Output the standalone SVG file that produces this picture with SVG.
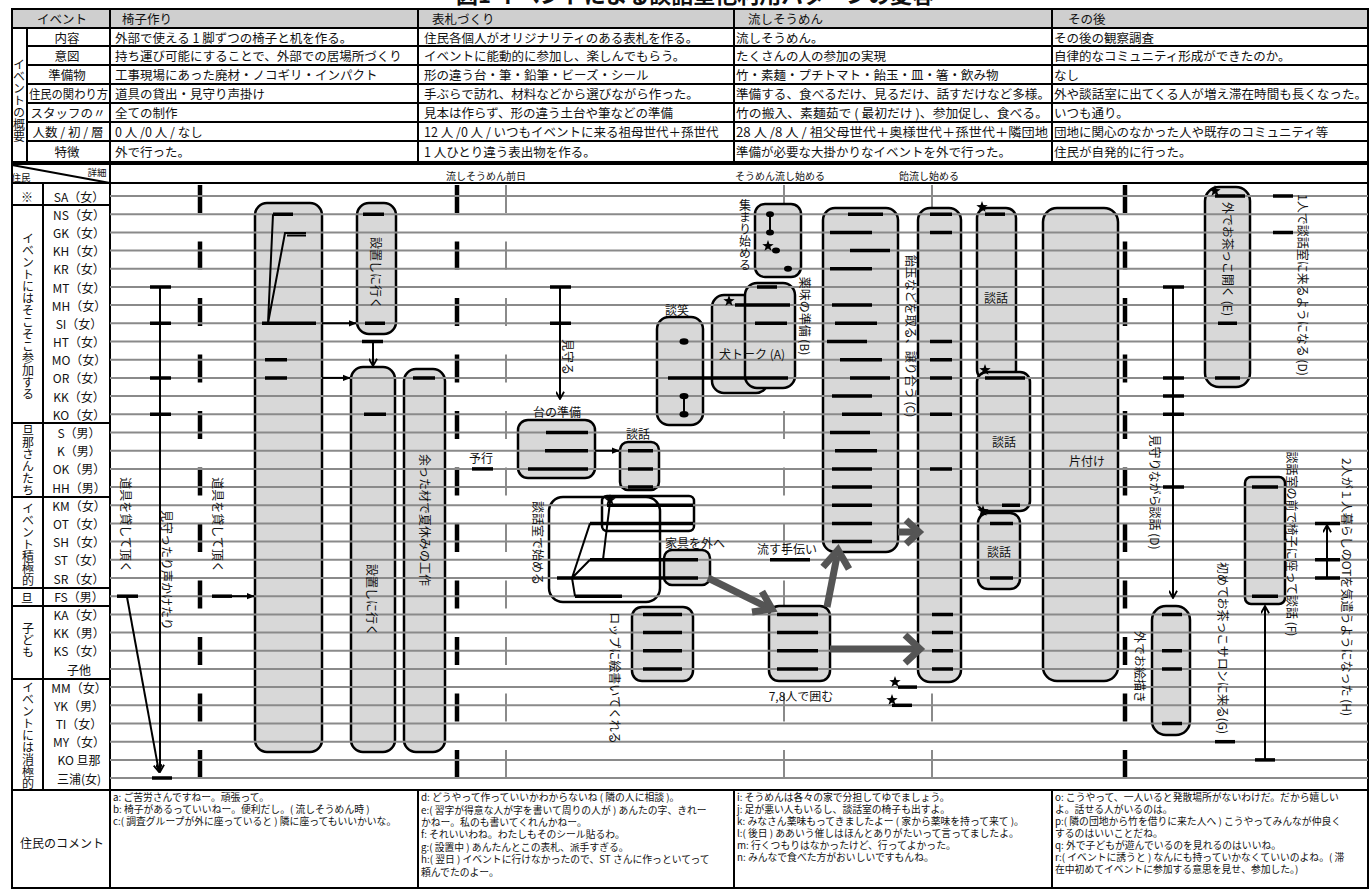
<svg xmlns="http://www.w3.org/2000/svg" xmlns:xlink="http://www.w3.org/1999/xlink" width="1371" height="891" viewBox="0 0 1371 891">
<style>
text{font-family:"Noto Sans CJK JP","Noto Sans CJK SC",sans-serif;fill:#111}
.tb{font-size:12.5px;dominant-baseline:central}
.hd{font-size:12.5px;dominant-baseline:central}
.lab{font-size:12px;text-anchor:middle;dominant-baseline:central}
.rot{font-size:12px;text-anchor:middle;dominant-baseline:central}
.vt{writing-mode:vertical-rl;font-size:12px;text-anchor:middle}
.sm{font-size:10px;text-anchor:middle;dominant-baseline:central}
.cm{font-size:9.8px}
.row{stroke:#8a8a8a;stroke-width:2;fill:none}
.box{fill:#d8d8d8;stroke:#000;stroke-width:2.5}
.wbox{fill:none;stroke:#000;stroke-width:2.5}
.bar{stroke:#000;stroke-width:3.5;fill:none}
.ln{stroke:#000;stroke-width:2;fill:none}
.grid{stroke:#000;stroke-width:2;fill:none}
.bd{stroke:#000;stroke-width:4.5;fill:none;stroke-dasharray:28 28.5}
.gd{stroke:#8a8a8a;stroke-width:2;fill:none;stroke-dasharray:28 28.5}
.big{stroke:#555;stroke-width:7;fill:none}
.dot{fill:#000}
</style>
<defs>
<marker id="ah" viewBox="0 0 10 10" refX="9" refY="5" markerWidth="8" markerHeight="8" markerUnits="userSpaceOnUse" orient="auto"><path d="M0,1 L10,5 L0,9 z" fill="#000"/></marker>
<marker id="oh" viewBox="0 0 10 10" refX="9" refY="5" markerWidth="9" markerHeight="9" markerUnits="userSpaceOnUse" orient="auto"><path d="M1,0.5 L9,5 L1,9.5" fill="none" stroke="#000" stroke-width="2"/></marker>
<path id="star" d="M0,-6 L1.41,-1.94 L5.71,-1.85 L2.28,0.74 L3.53,4.85 L0,2.4 L-3.53,4.85 L-2.28,0.74 L-5.71,-1.85 L-1.41,-1.94 Z" fill="#000"/>
</defs>
<rect width="1371" height="891" fill="#fff"/>

<text x="695" y="3" font-size="22" font-weight="bold" text-anchor="middle">図1 イベントによる談話室他利用パターンの変容</text>

<!-- summary table -->
<g id="table">
<rect x="12" y="9" width="1356" height="19" fill="#cfcfcf"/>
<rect x="12" y="9" width="1356" height="153" class="grid"/>
<path class="grid" d="M12,28 H1368 M27,46 H1368 M27,65 H1368 M27,84 H1368 M27,103 H1368 M27,122 H1368 M27,141 H1368 M27,28 V162 M110,9 V162 M418,9 V162 M734,9 V162 M1052,9 V162"/>
<text class="hd" x="62" y="18.5" text-anchor="middle">イベント</text>
<text class="hd" x="122" y="18.5">椅子作り</text>
<text class="hd" x="432" y="18.5">表札づくり</text>
<text class="hd" x="748" y="18.5">流しそうめん</text>
<text class="hd" x="1068" y="18.5">その後</text>
<text class="vt" x="19" y="100">イベントの概要</text>
<text class="tb" x="67" y="37" text-anchor="middle">内容</text>
<text class="tb" x="67" y="55.5" text-anchor="middle">意図</text>
<text class="tb" x="67" y="74.5" text-anchor="middle">準備物</text>
<text class="tb" x="29" y="93.5" textLength="79" lengthAdjust="spacingAndGlyphs">住民の関わり方</text>
<text class="tb" x="68" y="112.5" text-anchor="middle">スタッフの〃</text>
<text class="tb" x="68" y="131.5" text-anchor="middle">人数 / 初 / 層</text>
<text class="tb" x="67" y="151.5" text-anchor="middle">特徴</text>
<text class="tb" x="115" y="37">外部で使える 1 脚ずつの椅子と机を作る。</text>
<text class="tb" x="115" y="55.5">持ち運び可能にすることで、外部での居場所づくり</text>
<text class="tb" x="115" y="74.5">工事現場にあった廃材・ノコギリ・インパクト</text>
<text class="tb" x="115" y="93.5">道具の貸出・見守り声掛け</text>
<text class="tb" x="115" y="112.5">全ての制作</text>
<text class="tb" x="115" y="131.5">0 人 /0 人 / なし</text>
<text class="tb" x="115" y="151.5">外で行った。</text>
<text class="tb" x="424" y="37">住民各個人がオリジナリティのある表札を作る。</text>
<text class="tb" x="424" y="55.5">イベントに能動的に参加し、楽しんでもらう。</text>
<text class="tb" x="424" y="74.5">形の違う台・筆・鉛筆・ビーズ・シール</text>
<text class="tb" x="424" y="93.5">手ぶらで訪れ、材料などから選びながら作った。</text>
<text class="tb" x="424" y="112.5">見本は作らず、形の違う土台や筆などの準備</text>
<text class="tb" x="424" y="131.5">12 人 /0 人 / いつもイベントに来る祖母世代＋孫世代</text>
<text class="tb" x="424" y="151.5">1 人ひとり違う表出物を作る。</text>
<text class="tb" x="736" y="37">流しそうめん。</text>
<text class="tb" x="736" y="55.5">たくさんの人の参加の実現</text>
<text class="tb" x="736" y="74.5">竹・素麺・プチトマト・飴玉・皿・箸・飲み物</text>
<text class="tb" x="736" y="93.5" textLength="314" lengthAdjust="spacingAndGlyphs">準備する、食べるだけ、見るだけ、話すだけなど多様。</text>
<text class="tb" x="736" y="112.5" textLength="312" lengthAdjust="spacingAndGlyphs">竹の搬入、素麺茹で ( 最初だけ )、参加促し、食べる。</text>
<text class="tb" x="736" y="131.5" textLength="312" lengthAdjust="spacingAndGlyphs">28 人 /8 人 / 祖父母世代＋奥様世代＋孫世代＋隣団地</text>
<text class="tb" x="736" y="151.5">準備が必要な大掛かりなイベントを外で行った。</text>
<text class="tb" x="1054" y="37">その後の観察調査</text>
<text class="tb" x="1054" y="55.5">自律的なコミュニティ形成ができたのか。</text>
<text class="tb" x="1054" y="74.5">なし</text>
<text class="tb" x="1054" y="93.5" textLength="313" lengthAdjust="spacingAndGlyphs">外や談話室に出てくる人が増え滞在時間も長くなった。</text>
<text class="tb" x="1054" y="112.5">いつも通り。</text>
<text class="tb" x="1054" y="131.5">団地に関心のなかった人や既存のコミュニティ等</text>
<text class="tb" x="1054" y="151.5">住民が自発的に行った。</text>
</g>

<!-- chart frame -->
<g id="frame">
<path class="grid" d="M12,164 H1368 V888 H12 Z M12,183 H1368 M110,164 V888 M43,183 V790 M12,205 H110 M12,423 H110 M12,497 H110 M12,588 H110 M12,606 H110 M12,679 H110 M12,790 H1368 M418,790 V888 M734,790 V888 M1052,790 V888"/>
<line x1="12" y1="165" x2="110" y2="183" class="ln" stroke-width="1.5"/>
<text x="97" y="172" font-size="9.5" text-anchor="middle" dominant-baseline="central">詳細</text>
<text x="21" y="177" font-size="9.5" text-anchor="middle" dominant-baseline="central">住民</text>
<text class="sm" x="486" y="175">流しそうめん前日</text>
<text class="sm" x="780" y="175">そうめん流し始める</text>
<text class="sm" x="929" y="175">飴流し始める</text>
</g>

<!-- group labels -->
<g id="groups">
<text class="lab" x="27" y="196">※</text>
<text class="vt" x="28" y="316">イベントにはそこそこ参加する</text>
<text class="vt" x="28" y="460">旦那さんたち</text>
<text class="vt" x="28" y="544">イベント積極的</text>
<text class="lab" x="27" y="597">旦</text>
<text class="vt" x="28" y="640">子ども</text>
<text class="vt" x="28" y="735">イベントには消極的</text>
</g>

<!-- resident labels -->
<g id="residents">
<text class="lab" x="79" y="196">SA（女）</text>
<text class="lab" x="79" y="214.2">NS（女）</text>
<text class="lab" x="79" y="232.4">GK（女）</text>
<text class="lab" x="79" y="250.6">KH（女）</text>
<text class="lab" x="79" y="268.8">KR（女）</text>
<text class="lab" x="79" y="287">MT（女）</text>
<text class="lab" x="79" y="305.1">MH（女）</text>
<text class="lab" x="79" y="323.3">SI（女）</text>
<text class="lab" x="79" y="341.5">HT（女）</text>
<text class="lab" x="79" y="359.7">MO（女）</text>
<text class="lab" x="79" y="377.9">OR（女）</text>
<text class="lab" x="79" y="396.1">KK（女）</text>
<text class="lab" x="79" y="414.3">KO（女）</text>
<text class="lab" x="79" y="432.5">S（男）</text>
<text class="lab" x="79" y="450.7">K（男）</text>
<text class="lab" x="79" y="468.9">OK（男）</text>
<text class="lab" x="79" y="487">HH（男）</text>
<text class="lab" x="79" y="505.2">KM（女）</text>
<text class="lab" x="79" y="523.4">OT（女）</text>
<text class="lab" x="79" y="541.6">SH（女）</text>
<text class="lab" x="79" y="559.8">ST（女）</text>
<text class="lab" x="79" y="578">SR（女）</text>
<text class="lab" x="79" y="596.2">FS（男）</text>
<text class="lab" x="79" y="614.4">KA（女）</text>
<text class="lab" x="79" y="632.6">KK（男）</text>
<text class="lab" x="79" y="650.8">KS（女）</text>
<text class="lab" x="79" y="669">子他</text>
<text class="lab" x="79" y="687.1">MM（女）</text>
<text class="lab" x="79" y="705.3">YK（男）</text>
<text class="lab" x="79" y="723.5">TI（女）</text>
<text class="lab" x="79" y="741.7">MY（女）</text>
<text class="lab" x="79" y="759.9">KO 旦那</text>
<text class="lab" x="79" y="778.1">三浦(女)</text>
</g>

<!-- time dashes -->
<g id="timelines">
<path class="bd" d="M200,185 V778 M457,185 V778 M1125,185 V778"/>
<path class="gd" d="M506,185 V778 M784,185 V778 M932,185 V778"/>
</g>

<!-- activity boxes -->
<g id="boxes">
<rect id="n-chair" class="box" x="255" y="203" width="67" height="549" rx="12"/>
<rect id="n-set1" class="box" x="357" y="203" width="39" height="131" rx="12"/>
<rect id="n-set2" class="box" x="351" y="367" width="44" height="385" rx="12"/>
<rect id="n-craft" class="box" x="404" y="369" width="41" height="383" rx="12"/>
<rect id="n-dai" class="box" x="518" y="420" width="77" height="58" rx="10"/>
<rect id="n-danwa0" class="box" x="620" y="442" width="39" height="48" rx="8"/>
<rect id="n-dansho" class="box" x="657" y="317" width="46" height="108" rx="12"/>
<rect id="n-inu" class="box" x="712" y="295" width="56" height="98" rx="12"/>
<rect id="n-yakumi" class="box" x="745" y="283" width="50" height="105" rx="12"/>
<rect id="n-atsumari" class="box" x="755" y="204" width="46" height="73" rx="10"/>
<rect id="n-ame" class="box" x="823" y="208" width="75" height="344" rx="12"/>
<rect id="n-tall" class="box" x="918" y="208" width="43" height="474" rx="12"/>
<rect id="n-danwa1" class="box" x="977" y="208" width="39" height="172" rx="10"/>
<rect id="n-danwa2" class="box" x="977" y="372" width="53" height="139" rx="10"/>
<rect id="n-danwa3" class="box" x="978" y="513" width="42" height="76" rx="10"/>
<rect id="n-katazuke" class="box" x="1043" y="208" width="75" height="473" rx="14"/>
<rect id="n-ocha" class="box" x="1205" y="187" width="45" height="200" rx="14"/>
<rect id="n-oekaki" class="box" x="1152" y="606" width="38" height="129" rx="14"/>
<rect id="n-mae" class="box" x="1245" y="477" width="40" height="127" rx="6"/>
<rect id="n-kagu" class="box" x="664" y="550" width="46" height="35" rx="8"/>
<rect id="n-cup" class="box" x="632" y="607" width="61" height="74" rx="10"/>
<rect id="n-kakomu" class="box" x="769" y="606" width="61" height="75" rx="10"/>
<rect id="n-danwashitsu" class="wbox" x="549" y="497" width="111" height="105" rx="14"/>
<rect class="wbox" x="602" y="496" width="92" height="35" rx="5"/>
</g>

<!-- resident rows -->
<g id="rows">
<path class="row" d="M110,196H1368M110,214.2H1368M110,232.4H1368M110,250.6H1368M110,268.8H1368M110,287H1368M110,305.1H1368M110,323.3H1368M110,341.5H1368M110,359.7H1368M110,377.9H1368M110,396.1H1368M110,414.3H1368M110,432.5H1368M110,450.7H1368M110,468.9H1368M110,487H1368M110,505.2H1368M110,523.4H1368M110,541.6H1368M110,559.8H1368M110,578H1368M110,596.2H1368M110,614.4H1368M110,632.6H1368M110,650.8H1368M110,669H1368M110,687.1H1368M110,705.3H1368M110,723.5H1368M110,741.7H1368M110,759.9H1368M110,778.1H1368"/>
</g>

<!-- connectors, bars and marks -->
<g id="connectors">
<path class="ln" d="M160,287 V772" marker-end="url(#oh)"/>
<path class="bar" d="M150,287H171M150,323.3H171M150,377.9H171M150,414.3H171M152,778.1H172"/>
<path class="bar" d="M117,596.2H138"/>
<path class="ln" d="M127,597 L159,772" marker-end="url(#oh)"/>
<path class="bar" d="M212,596.2H232"/>
<path class="ln" d="M232,596.2 H254" marker-end="url(#ah)"/>
<path class="bar" d="M273,214.2H293M262,323.3H316M265,359.7H287M265,377.9H287"/>
<path class="ln" d="M273,214.2 L268,323.3 L285,233 H306" stroke-width="2.5"/>
<path class="ln" d="M287,235.5 H306" stroke-width="1.5"/>
<path class="ln" d="M322,323.3 H356" marker-end="url(#ah)"/>
<path class="ln" d="M322,377.9 H350" marker-end="url(#ah)"/>
<path class="bar" d="M363,214.2H384M365,323.3H385M362,341.5H383M364,414.3H386M413,377.9H435"/>
<path class="ln" d="M373,341.5 V366" marker-end="url(#oh)"/>
<path class="bar" d="M472,468.9H493"/>
<path class="ln" d="M560,287 V399" marker-end="url(#oh)"/>
<path class="bar" d="M550,287H571M550,323.3H571"/>
<path class="bar" d="M546,432.5H588M545,450.7H588M528,468.9H588"/>
<path class="ln" d="M595,450.7 H619" marker-end="url(#ah)"/>
<path class="bar" d="M628,450.7H653M628,468.9H653M628,487H653"/>
<ellipse class="dot" cx="684" cy="341.5" rx="4.5" ry="3.2"/>
<path class="bar" d="M668,377.9H788"/>
<path class="ln" d="M684,396.1V414.3" stroke-width="2.5"/>
<ellipse class="dot" cx="684" cy="396.1" rx="4.5" ry="3.2"/>
<ellipse class="dot" cx="684" cy="414.3" rx="4.5" ry="3.2"/>
<use href="#star" x="729" y="301"/>
<path class="bar" d="M735,305.1H790M757,287H777M755,323.3H787"/>
<path class="ln" d="M770,214.2V232.4" stroke-width="2.5"/>
<ellipse class="dot" cx="770" cy="214.2" rx="4" ry="3"/>
<ellipse class="dot" cx="770" cy="232.4" rx="4" ry="3"/>
<use href="#star" x="768" y="246"/>
<ellipse class="dot" cx="776" cy="250.6" rx="4" ry="3"/>
<ellipse class="dot" cx="788" cy="268.8" rx="4" ry="3"/>
<path class="bar" d="M848,214.2H883M830,232.4H872M850,250.6H890M830,268.8H872M832,305.1H872M835,323.3H877M827,341.5H867M840,359.7H882M850,377.9H890M832,396.1H872M842,414.3H882M830,432.5H870M835,450.7H877M832,468.9H872M832,487H872M832,505.2H872M832,523.4H872M832,541.6H872"/>
<path class="bar" d="M930,214.2H952M930,232.4H952M930,341.5H952M930,359.7H952M930,377.9H952M930,414.3H952M930,468.9H952M932,614.4H953M932,632.6H953M932,650.8H953M932,669H953"/>
<use href="#star" x="610" y="500"/>
<path class="ln" d="M610,502 L603,559.8" stroke-width="2.5"/>
<path class="ln" d="M590,523.4 L572,578 M590,559.8 L572,578 M572,578 L575,596.2" stroke-width="2.5"/>
<path class="bar" d="M607,505.2H693M590,523.4H693M590,559.8H698M557,578H698M575,596.2H622"/>
<path class="bar" d="M770,559.8H810"/>
<path class="bar" d="M643,614.4H682M643,632.6H682M643,650.8H682M643,669H682"/>
<path class="bar" d="M777,614.4H818M777,632.6H818M777,650.8H818M777,669H818"/>
<path class="big" d="M708,578 L767,607"/>
<path class="big" d="M762,591.5 L772,609 L752,612" stroke-width="6"/>
<path class="big" d="M827,607 L837,556"/>
<path class="big" d="M823,567 L838,550 L849,569" stroke-width="6"/>
<path class="big" d="M898,532 H916"/>
<path class="big" d="M906,520 L919,532 L906,544" stroke-width="6"/>
<path class="big" d="M830,649 H917"/>
<path class="big" d="M905,635 L920,649 L905,663" stroke-width="6"/>
<use href="#star" x="895" y="682"/>
<path class="bar" d="M898,687.1H917"/>
<use href="#star" x="892" y="700"/>
<path class="bar" d="M892,705.3H912"/>
<use href="#star" x="982" y="207"/>
<path class="bar" d="M985,214.2H1005"/>
<use href="#star" x="985" y="370"/>
<path class="bar" d="M985,377.9H1025M1002,505.2H1020"/>
<use href="#star" x="983" y="511"/>
<path class="bar" d="M990,523.4H1013M990,578H1013"/>
<use href="#star" x="1215" y="191"/>
<path class="bar" d="M1215,196H1245M1218,323.3H1237M1215,377.9H1240"/>
<path class="bar" d="M1273,196H1293M1273,232.4H1293"/>
<path class="ln" d="M1173,287 V598" marker-end="url(#oh)"/>
<path class="bar" d="M1163,287H1184M1163,377.9H1184M1163,396.1H1184M1163,414.3H1184M1163,487H1184"/>
<path class="bar" d="M1162,614.4H1182M1162,650.8H1182M1162,669H1182M1162,723.5H1182"/>
<path class="bar" d="M1215,741.7H1235"/>
<path class="bar" d="M1252,487H1278M1252,596.2H1278"/>
<path class="ln" d="M1265,759.9 V606" marker-end="url(#oh)"/>
<path class="bar" d="M1255,759.9H1275"/>
<path class="ln" d="M1327,578 V525" marker-end="url(#oh)"/>
<path class="bar" d="M1315,523.4H1340M1315,559.8H1340M1315,578H1340"/>
</g>

<!-- chart labels -->
<g id="labels">
<text class="rot" transform="translate(126,525) rotate(90)">道具を貸して頂く</text>
<text class="rot" transform="translate(167,570) rotate(90)">見守ったり声かけたり</text>
<text class="rot" transform="translate(218,525) rotate(90)">道具を貸して頂く</text>
<text class="rot" transform="translate(376,273) rotate(90)">設置しに行く</text>
<text class="rot" transform="translate(372,600) rotate(90)">設置しに行く</text>
<text class="rot" transform="translate(425,520) rotate(90)">余った材で夏休みの工作</text>
<text class="lab" x="481" y="457">予行</text>
<text class="rot" transform="translate(568,357) rotate(90)">見守る</text>
<text class="lab" x="557" y="411">台の準備</text>
<text class="lab" x="638" y="433">談話</text>
<text class="lab" x="677" y="309">談笑</text>
<text class="lab" x="752" y="353">犬トーク (A)</text>
<text class="rot" transform="translate(805,316) rotate(90)">薬味の準備 (B)</text>
<text class="vt" x="745" y="235">集まり始める</text>
<text class="rot" transform="translate(911,336) rotate(90)">飴玉などを取る、譲り合う (C)</text>
<text class="rot" transform="translate(538,543) rotate(90)">談話室で始める</text>
<text class="lab" x="695" y="542">家具を外へ</text>
<text class="lab" x="787" y="548">流す手伝い</text>
<text class="rot" transform="translate(615,678) rotate(90)">ロップに絵書いてくれる</text>
<text class="lab" x="801" y="695">7,8人で囲む</text>
<text class="lab" x="996" y="297">談話</text>
<text class="lab" x="1004" y="441">談話</text>
<text class="lab" x="999" y="551">談話</text>
<text class="lab" x="1087" y="460">片付け</text>
<text class="rot" transform="translate(1228,259) rotate(90)">外でお茶っこ開く (E)</text>
<text class="rot" transform="translate(1303,285) rotate(90)">1人で談話室に来るようになる (D)</text>
<text class="rot" transform="translate(1155,492) rotate(90)">見守りながら談話 (D)</text>
<text class="rot" transform="translate(1140,667) rotate(90)">外でお絵描き</text>
<text class="rot" transform="translate(1223,648) rotate(90)">初めてお茶っこサロンに来る(G)</text>
<text class="rot" transform="translate(1292,544) rotate(90)">談話室の前で椅子に座って談話 (F)</text>
<text class="rot" transform="translate(1347,587) rotate(90)">2人が１人暮らしのOTを気遣うようになった (H)</text>
</g>

<!-- comments -->
<g id="comments">
<text class="lab" x="62" y="842">住民のコメント</text>
<text class="cm" x="113" y="801">a: ご苦労さんですねー。頑張って。</text>
<text class="cm" x="113" y="813">b: 椅子があるっていいねー。便利だし。( 流しそうめん時 )</text>
<text class="cm" x="113" y="825">c:( 調査グループが外に座っていると ) 隣に座ってもいいかいな。</text>
<text class="cm" x="421" y="801">d: どうやって作っていいかわからないね ( 隣の人に相談 )。</text>
<text class="cm" x="421" y="814">e:( 習字が得意な人が字を書いて周りの人が ) あんたの字、きれー</text>
<text class="cm" x="421" y="826">かねー。私のも書いてくれんかねー。</text>
<text class="cm" x="421" y="838">f: それいいわね。わたしもそのシール貼るわ。</text>
<text class="cm" x="421" y="851">g:( 設置中 ) あんたんとこの表札、派手すぎる。</text>
<text class="cm" x="421" y="863">h:( 翌日 ) イベントに行けなかったので、ST さんに作っといてって</text>
<text class="cm" x="421" y="876">頼んでたのよー。</text>
<text class="cm" x="737" y="801">i: そうめんは各々の家で分担してゆでましょう。</text>
<text class="cm" x="737" y="813">j: 足が悪い人もいるし、談話室の椅子も出すよ。</text>
<text class="cm" x="737" y="825">k: みなさん薬味もってきましたよー ( 家から薬味を持って来て )。</text>
<text class="cm" x="737" y="837">l:( 後日 ) ああいう催しはほんとありがたいって言ってましたよ。</text>
<text class="cm" x="737" y="849">m: 行くつもりはなかったけど、行ってよかった。</text>
<text class="cm" x="737" y="861">n: みんなで食べた方がおいしいですもんね。</text>
<text class="cm" x="1055" y="801">o: こうやって、一人いると発散場所がないわけだ。だから嬉しい</text>
<text class="cm" x="1055" y="813">よ。話せる人がいるのは。</text>
<text class="cm" x="1055" y="825">p:( 隣の団地から竹を借りに来た人へ ) こうやってみんなが仲良く</text>
<text class="cm" x="1055" y="837">するのはいいことだね。</text>
<text class="cm" x="1055" y="849">q: 外で子どもが遊んでいるのを見れるのはいいね。</text>
<text class="cm" x="1055" y="861">r:( イベントに誘うと ) なんにも持っていかなくていいのよね。( 滞</text>
<text class="cm" x="1055" y="873">在中初めてイベントに参加する意思を見せ、参加した。)</text>
</g>
</svg>
